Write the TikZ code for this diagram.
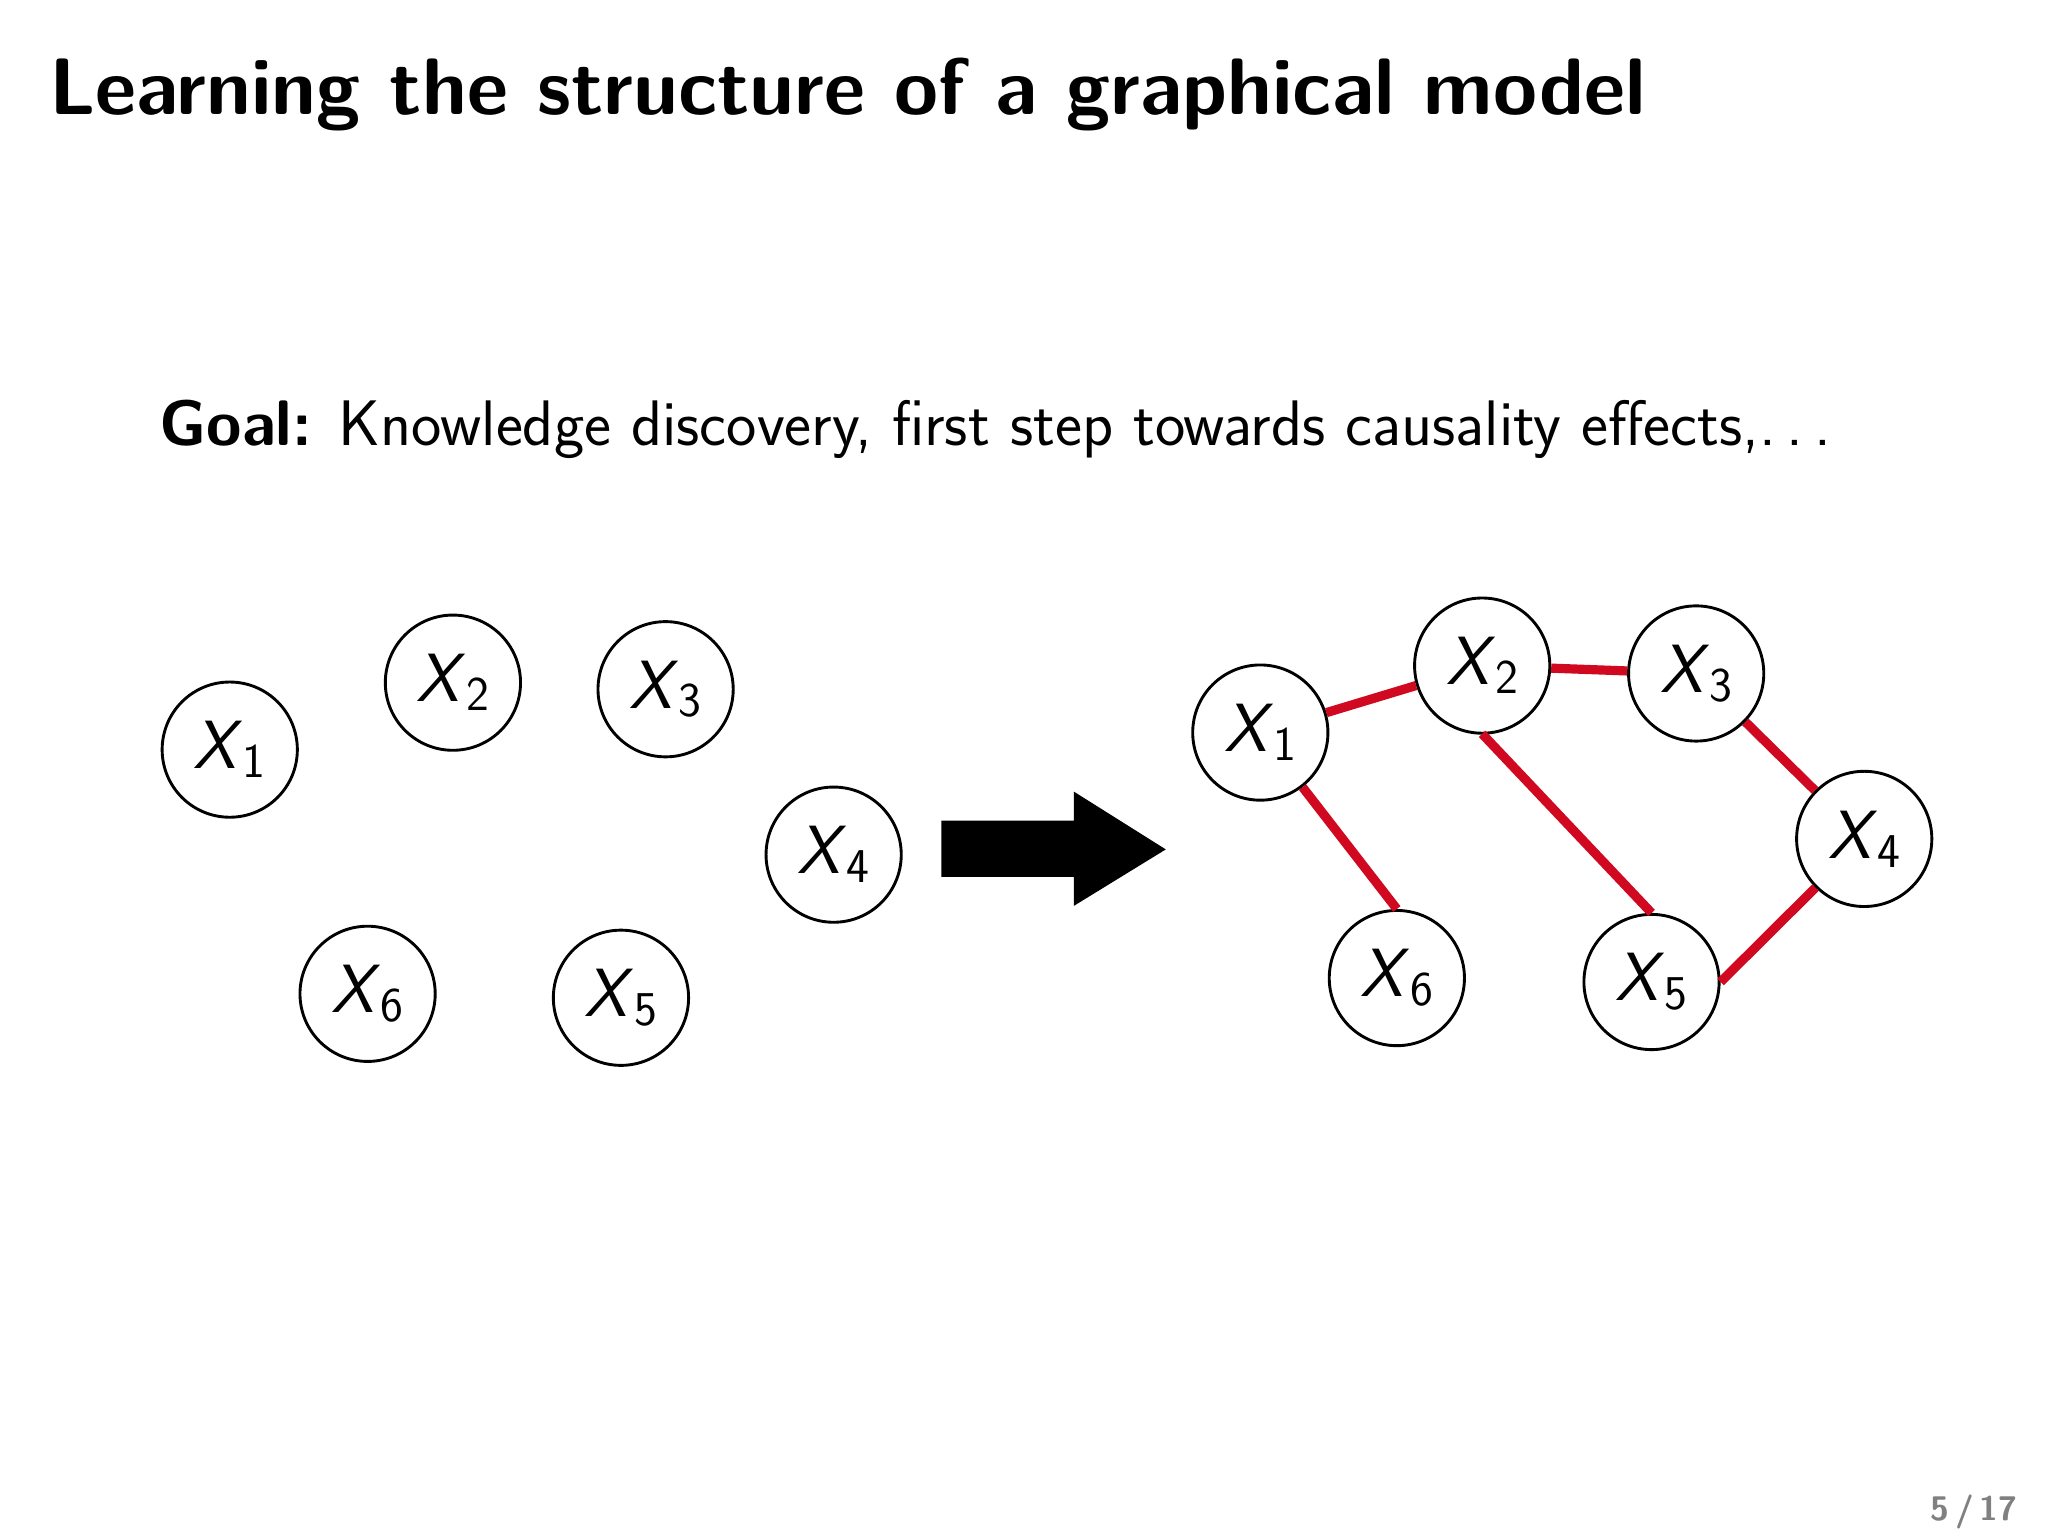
\documentclass[tikz,border=0pt]{standalone}
\usepackage{fontspec}
\usepackage{xcolor}
\definecolor{edgered}{RGB}{208,8,32}
\begin{document}
\begin{tikzpicture}[x=1pt,y=-1pt,
  var/.style={circle,draw,line width=2.2pt,minimum size=103pt,inner sep=0pt,font=\fontsize{52}{58}\selectfont\sffamily},
  edge/.style={edgered,line width=7pt}]
\useasboundingbox (0,0) rectangle (1560,1170);
\node[anchor=west,font=\fontsize{61}{70}\selectfont\sffamily\bfseries] (title) at (34,72) {Learning the structure of a graphical model};
\node[anchor=west,font=\fontsize{49}{58}\selectfont\sffamily] (goal) at (118,327) {\textbf{Goal:} Knowledge discovery, first step towards causality effects,.\,.\,.};
\newcommand{\xv}[1]{\textit{X}\raisebox{-0.3ex}{\fontsize{37}{40}\selectfont #1}}
\node[var] (a1) at (175,571) {\xv1};
\node[var] (a2) at (345,520) {\xv2};
\node[var] (a3) at (507,525) {\xv3};
\node[var] (a4) at (635,651) {\xv4};
\node[var] (a6) at (280,757) {\xv6};
\node[var] (a5) at (473,760) {\xv5};
\fill (717,625) -- (818,625) -- (818,603) -- (888,647) -- (818,690) -- (818,668) -- (717,668) -- cycle;
\node[var] (b1) at (960,558) {\xv1};
\node[var] (b2) at (1129,507) {\xv2};
\node[var] (b3) at (1292,513) {\xv3};
\node[var] (b4) at (1420,639) {\xv4};
\node[var] (b6) at (1064,745) {\xv6};
\node[var] (b5) at (1258,748) {\xv5};
\draw[edge] (b1) -- (b2);
\draw[edge] (b2) -- (b3);
\draw[edge] (b3) -- (b4);
\draw[edge] (b4.south west) -- (b5.east);
\draw[edge] (b1) -- (b6.north);
\draw[edge] (b2.center) ++(0,52) coordinate (s) -- (b5.north);
\node[anchor=east,text=gray,font=\fontsize{26}{30}\selectfont\sffamily\bfseries] (pg) at (1540,1152) {5\,/\,17};
\end{tikzpicture}
\end{document}
